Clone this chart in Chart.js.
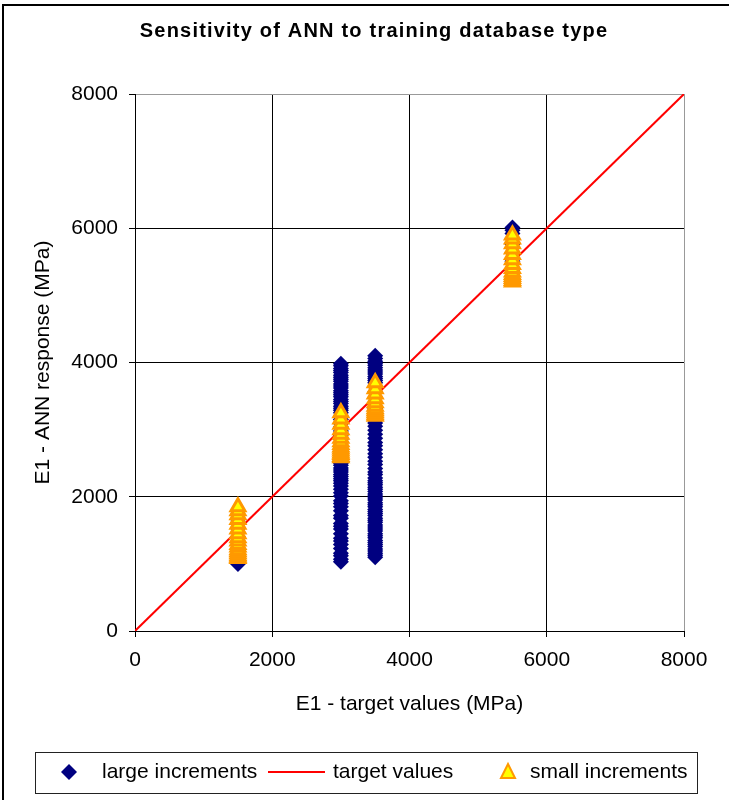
<!DOCTYPE html>
<html>
<head>
<meta charset="utf-8">
<script src="https://cdn.jsdelivr.net/npm/chart.js"></script>
<style>
  body { margin: 0; background: #fff; }
  #wrap { width: 729px; height: 800px; }
</style>
</head>
<body>
<div id="wrap"><canvas id="chart" width="729" height="800"></canvas></div>
<script>
// target E1 values used in the training sets (MPa)
const targets = [1500, 3000, 3500, 5500];

// ANN responses, large increment database
const large1500 = [1000, 1020, 1050, 1080, 1130, 1200, 1290, 1400, 1530, 1660];
const large3000 = [1030, 1070, 1120, 1160, 1230, 1290, 1340, 1380, 1450, 1520, 1560, 1600, 1680, 1720, 1790, 1850, 1900, 1940,
  2010, 2060, 2110, 2160, 2200, 2240, 2270, 2300, 2330, 2370, 2400, 2430, 2470, 2500, 2540, 2570, 2610, 2660, 2700, 2750,
  2810, 2860, 2920, 2980, 3040, 3090, 3150, 3200, 3250, 3290, 3320, 3350, 3390, 3420, 3450, 3490, 3520, 3550, 3580, 3620,
  3650, 3680, 3720, 3750, 3780, 3810, 3850, 3880, 3910, 3950, 3980];
const large3500 = [1100, 1130, 1160, 1190, 1220, 1260, 1290, 1320, 1350, 1390, 1420, 1450, 1490, 1520, 1550, 1580, 1620,
  1650, 1680, 1720, 1750, 1780, 1810, 1850, 1880, 1910, 1950, 1980, 2010, 2040, 2080, 2110, 2140, 2180, 2210, 2240, 2280,
  2330, 2370, 2420, 2480, 2530, 2590, 2640, 2700, 2760, 2810, 2870, 2930, 2990, 3050, 3100, 3140, 3190, 3250, 3320, 3400,
  3480, 3560, 3640, 3700, 3730, 3760, 3790, 3830, 3860, 3890, 3920, 3960, 3990, 4020, 4060, 4100];
const large5500 = [5250, 5380, 5510, 5640, 5760, 5850, 5920, 5970, 6010];

// ANN responses, small increment database
const small1500 = [1080, 1100, 1120, 1150, 1180, 1210, 1250, 1290, 1340, 1390, 1450, 1520, 1590, 1660, 1730, 1790, 1850];
const small3000 = [2580, 2600, 2630, 2650, 2680, 2710, 2740, 2780, 2820, 2870, 2930, 3000, 3080, 3160, 3250];
const small3500 = [3200, 3220, 3250, 3280, 3310, 3350, 3400, 3460, 3530, 3610, 3700];
const small5500 = [5200, 5220, 5250, 5280, 5310, 5350, 5400, 5460, 5530, 5610, 5690, 5770, 5840, 5900];

// ideal response line
const lineX = [0, 8000];
const lineY = [0, 8000];

const axisTicks = [0, 2000, 4000, 6000, 8000];

const FONT = '"Liberation Sans", Arial, sans-serif';

function column(x, ys) {
  return ys.map(y => ({ x: x, y: y }));
}

const largePts = [].concat(
  column(targets[0], large1500), column(targets[1], large3000),
  column(targets[2], large3500), column(targets[3], large5500));
const smallPts = [].concat(
  column(targets[0], small1500), column(targets[1], small3000),
  column(targets[2], small3500), column(targets[3], small5500));
const linePts = lineX.map((x, i) => ({ x: x, y: lineY[i] }));

// titles, frame and the boxed legend underneath
const decor = {
  id: 'decor',
  afterDraw(chart) {
    const ctx = chart.ctx;
    const a = chart.chartArea;
    ctx.save();

    // outer frame (left and top edges)
    ctx.fillStyle = '#000';
    ctx.fillRect(2, 4, 2, 796);
    ctx.fillRect(2, 4, 727, 2);

    ctx.textBaseline = 'middle';
    ctx.textAlign = 'center';
    ctx.font = 'bold 20px ' + FONT;
    ctx.letterSpacing = '1.2px';
    ctx.fillText('Sensitivity of ANN to training database type', 374, 31);
    ctx.letterSpacing = '0px';

    ctx.font = '21px ' + FONT;
    ctx.fillText('E1 - target values (MPa)', (a.left + a.right) / 2, 704);

    ctx.save();
    ctx.translate(43, (a.top + a.bottom) / 2);
    ctx.rotate(-Math.PI / 2);
    ctx.fillText('E1 - ANN response (MPa)', 0, 0);
    ctx.restore();

    // legend
    ctx.strokeStyle = '#222';
    ctx.lineWidth = 1;
    ctx.strokeRect(35.5, 752.5, 662, 41);

    const ds = chart.data.datasets;
    const ly = 772;
    ctx.textAlign = 'left';
    ctx.font = '21px ' + FONT;

    ctx.fillStyle = ds[0].backgroundColor;
    ctx.beginPath();
    ctx.moveTo(69, ly - 8); ctx.lineTo(77, ly); ctx.lineTo(69, ly + 8); ctx.lineTo(61, ly);
    ctx.closePath(); ctx.fill();
    ctx.fillStyle = '#000';
    ctx.fillText(ds[0].label, 102, ly);

    ctx.strokeStyle = ds[1].borderColor;
    ctx.lineWidth = 2;
    ctx.beginPath(); ctx.moveTo(268, ly); ctx.lineTo(325, ly); ctx.stroke();
    ctx.fillText(ds[1].label, 333, ly);

    ctx.fillStyle = ds[2].backgroundColor;
    ctx.strokeStyle = ds[2].borderColor;
    ctx.lineWidth = 2;
    ctx.beginPath();
    ctx.moveTo(508, ly - 8); ctx.lineTo(515, ly + 6); ctx.lineTo(501, ly + 6);
    ctx.closePath(); ctx.fill(); ctx.stroke();
    ctx.fillStyle = '#000';
    ctx.fillText(ds[2].label, 530, ly);

    ctx.restore();
  }
};

const gridColor = c => (c.tick && c.tick.value === 8000) ? '#999' : '#000';

new Chart(document.getElementById('chart'), {
  type: 'scatter',
  data: {
    datasets: [
      {
        label: 'large increments',
        data: largePts,
        pointStyle: 'rectRot',
        pointRadius: 8,
        pointHoverRadius: 8,
        backgroundColor: '#000080',
        borderColor: '#000080',
        borderWidth: 0,
        order: 3
      },
      {
        label: 'target values',
        type: 'line',
        data: linePts,
        showLine: true,
        borderColor: '#ff0000',
        borderWidth: 2,
        pointRadius: 0,
        fill: false,
        order: 2
      },
      {
        label: 'small increments',
        data: smallPts,
        pointStyle: 'triangle',
        pointRadius: 8,
        pointHoverRadius: 8,
        backgroundColor: '#ffff00',
        borderColor: '#ff9900',
        borderWidth: 3,
        order: 1
      }
    ]
  },
  options: {
    responsive: false,
    animation: false,
    devicePixelRatio: 1,
    layout: { padding: { top: 94, right: 45, bottom: 0, left: 0 } },
    plugins: {
      legend: { display: false },
      tooltip: { enabled: false }
    },
    scales: {
      x: {
        type: 'linear',
        min: 0, max: 8000,
        afterBuildTicks: s => { s.ticks = axisTicks.map(v => ({ value: v })); },
        afterFit: s => { s.height = 169; },
        ticks: { color: '#000', font: { family: FONT, size: 21 }, padding: 11, maxRotation: 0, callback: v => String(v) },
        grid: { color: gridColor, tickColor: '#000', tickLength: 6, lineWidth: 1 },
        border: { color: '#000', width: 1 }
      },
      y: {
        type: 'linear',
        min: 0, max: 8000,
        afterBuildTicks: s => { s.ticks = axisTicks.map(v => ({ value: v })); },
        afterFit: s => { s.width = 135; },
        ticks: { color: '#000', font: { family: FONT, size: 21 }, padding: 11, callback: v => String(v) },
        grid: { color: gridColor, tickColor: '#000', tickLength: 6, lineWidth: 1 },
        border: { color: '#000', width: 1 }
      }
    }
  },
  plugins: [decor]
});
</script>
</body>
</html>
